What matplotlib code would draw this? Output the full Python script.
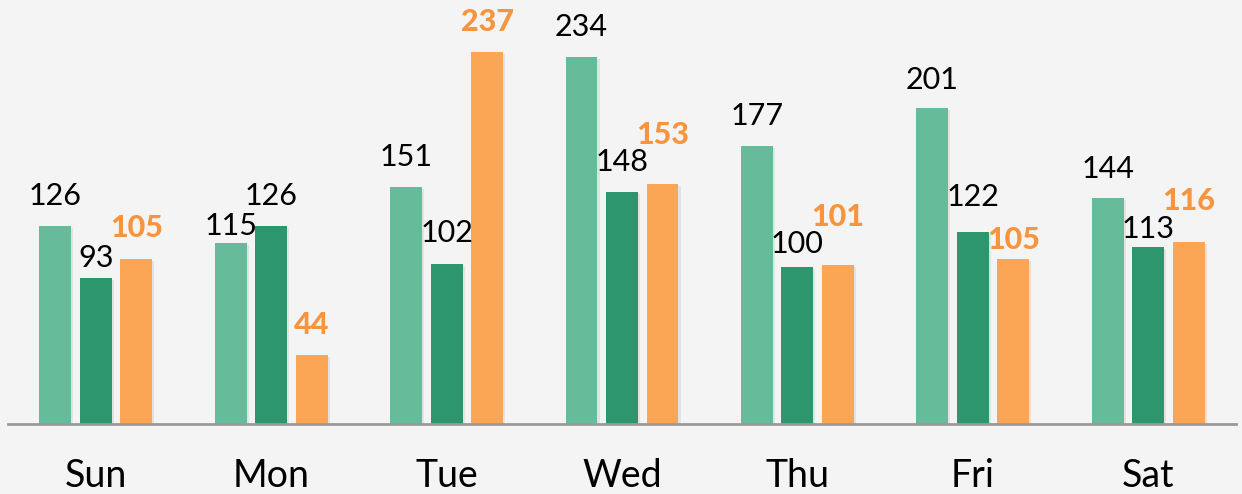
import matplotlib
matplotlib.use("Agg")
import matplotlib.pyplot as plt
import matplotlib.patheffects as pe
import numpy as np

days = ["Sun", "Mon", "Tue", "Wed", "Thu", "Fri", "Sat"]
series_a = [126, 115, 151, 234, 177, 201, 144]
series_b = [93, 126, 102, 148, 100, 122, 113]
series_c = [105, 44, 237, 153, 101, 105, 116]

# label baseline offsets above bar tops (pixels) - styling only
offs_a = [21, 8, 20.5, 20.5, 21.5, 19.5, 20]
offs_b = [10.5, 21, 21.5, 20.5, 13.5, 26, 8.5]
offs_c = [22, 21, 21, 40, 39, 10, 32]

col_a = "#66BB9A"
col_b = "#2E966C"
col_c = "#FAA655"
col_c_text = "#F7943E"
bg = "#F4F4F4"

plt.rcParams['font.family'] = ['Lato', 'DejaVu Sans']

fig = plt.figure(figsize=(12.42, 4.94), dpi=100, facecolor=bg)
ax = fig.add_axes([8/1242, 70/494, 1228/1242, 424/494])
ax.set_facecolor(bg)

x = np.arange(len(days))
step = 0.231
width = 0.182
shadow = [pe.SimplePatchShadow(offset=(1.5, -1.5), shadow_rgbFace='k', alpha=0.07), pe.Normal()]

for k, (vals, col, offs) in enumerate([(series_a, col_a, offs_a), (series_b, col_b, offs_b), (series_c, col_c, offs_c)]):
    xs = x + (k - 1) * step
    bars = ax.bar(xs, vals, width=width, color=col, zorder=2)
    for b in bars:
        b.set_path_effects(shadow)
    for xi, v, o in zip(xs, vals, offs):
        if k == 2:
            ax.annotate(str(v), xy=(xi, v), xytext=(0, o), textcoords='offset pixels',
                        ha='center', va='baseline', fontsize=22, fontweight='black',
                        color=col_c_text, zorder=3)
        else:
            ax.annotate(str(v), xy=(xi, v), xytext=(0, o), textcoords='offset pixels',
                        ha='center', va='baseline', fontsize=22, color='black', zorder=3)

for xi, d in zip(x, days):
    ax.annotate(d, xy=(xi, 0), xycoords=('data', 'axes fraction'), xytext=(0, -63),
                textcoords='offset pixels', ha='center', va='baseline', fontsize=27,
                color='black', annotation_clip=False)

ax.set_xlim(-0.5, 6.5)
ax.set_ylim(0, 270)
for s in ['top', 'right', 'left']:
    ax.spines[s].set_visible(False)
ax.spines['bottom'].set_color('#9A9A9A')
ax.spines['bottom'].set_linewidth(2)
ax.spines['bottom'].set_zorder(4)
ax.set_xticks([])
ax.set_yticks([])

fig.savefig("out.png", dpi=100, facecolor=bg)
